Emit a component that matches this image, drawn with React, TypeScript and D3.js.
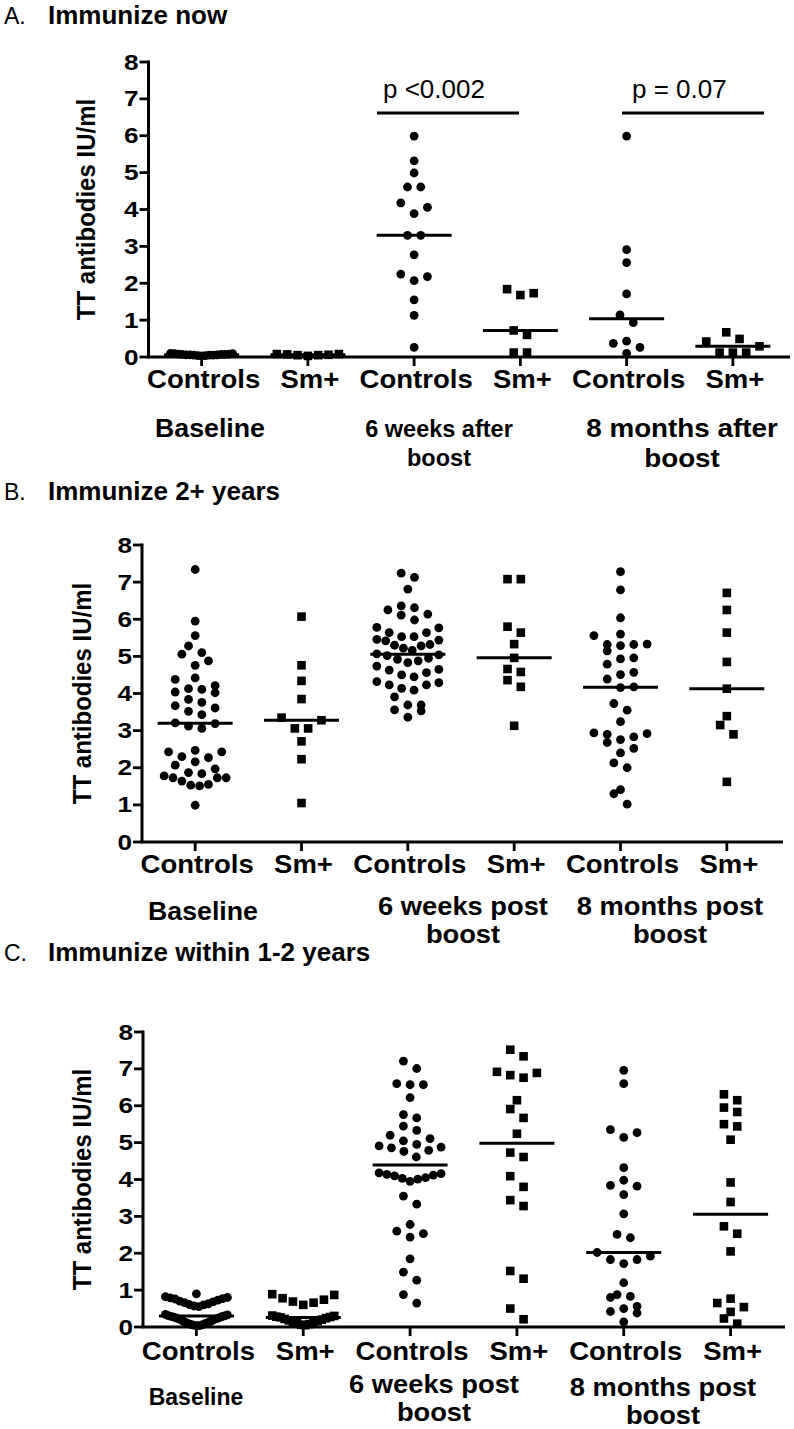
import React from "react";
import * as d3 from "d3";

// ---------------- DATA ----------------
const categories = ["Controls", "Sm+", "Controls", "Sm+", "Controls", "Sm+"];
const markerKinds = ["circle", "square", "circle", "square", "circle", "square"];
const yTicks = [0, 1, 2, 3, 4, 5, 6, 7, 8];
const yLabel = "TT antibodies IU/ml";

// Panel A: Immunize now
const aBaselineControls = [0.03, 0.04, 0.04, 0.05, 0.05, 0.05, 0.06, 0.06, 0.06, 0.07, 0.07, 0.07, 0.08, 0.08, 0.09, 0.09, 0.1];
const aBaselineSm = [0.03, 0.05, 0.05, 0.06, 0.07, 0.08, 0.08];
const a6wkControls = [5.99, 5.32, 4.99, 4.61, 4.61, 4.18, 4.06, 3.89, 3.3, 3.3, 2.77, 2.25, 2.18, 2.07, 1.55, 1.13, 0.26];
const a6wkSm = [1.84, 1.73, 1.68, 0.72, 0.6, 0.12, 0.12];
const a8moControls = [5.99, 2.91, 2.56, 1.71, 1.14, 0.93, 0.43, 0.37, 0.26, 0.1];
const a8moSm = [0.67, 0.49, 0.42, 0.29, 0.12, 0.12, 0.12];
const aGroupLabels = [["Baseline"], ["6 weeks after", "boost"], ["8 months after", "boost"]];
const aPValues = ["p <0.002", "p = 0.07"];

// Panel B: Immunize 2+ years
const bBaselineControls = [7.34, 5.95, 5.56, 5.28, 5.1, 5.06, 4.88, 4.76, 4.42, 4.38, 4.21, 4.13, 4.11, 4.04, 4.02, 3.84, 3.76, 3.67, 3.61, 3.52, 3.43, 3.21, 3.19, 3.12, 3.06, 2.47, 2.43, 2.43, 2.3, 2.27, 2.16, 2.07, 1.97, 1.87, 1.84, 1.78, 1.73, 1.73, 1.73, 1.64, 1.55, 1.53, 1.51, 0.99];
const bBaselineSm = [6.07, 4.76, 4.34, 3.85, 3.35, 3.28, 3.06, 3.06, 2.71, 2.23, 1.05];
const b6wkControls = [7.24, 7.13, 6.81, 6.36, 6.31, 6.25, 6.14, 6.11, 5.98, 5.78, 5.77, 5.64, 5.64, 5.53, 5.53, 5.46, 5.44, 5.42, 5.32, 5.3, 5.28, 5.22, 5.16, 5.07, 5.04, 5.02, 4.95, 4.92, 4.88, 4.83, 4.74, 4.65, 4.63, 4.56, 4.5, 4.45, 4.32, 4.29, 4.23, 4.23, 4.14, 4.09, 3.91, 3.69, 3.69, 3.56, 3.53, 3.36];
const b6wkSm = [7.08, 7.08, 5.8, 5.64, 5.33, 4.96, 4.66, 4.58, 4.36, 4.18, 3.13];
const b8moControls = [7.28, 6.79, 6.04, 5.6, 5.56, 5.33, 5.32, 5.32, 5.29, 5.15, 4.96, 4.93, 4.79, 4.57, 4.51, 4.39, 4.18, 4.16, 3.73, 3.55, 3.24, 2.94, 2.92, 2.9, 2.83, 2.76, 2.68, 2.52, 2.4, 2.13, 2.0, 1.41, 1.3, 1.02];
const b8moSm = [6.71, 6.25, 5.64, 4.85, 4.13, 3.39, 3.15, 2.9, 1.62];
const bGroupLabels = [["Baseline"], ["6 weeks post", "boost"], ["8 months post", "boost"]];

// Panel C: Immunize within 1-2 years
const cBaselineControls = [0.9, 0.82, 0.8, 0.79, 0.77, 0.76, 0.73, 0.7, 0.68, 0.66, 0.63, 0.61, 0.6, 0.57, 0.55, 0.34, 0.33, 0.31, 0.3, 0.29, 0.28, 0.27, 0.25, 0.24, 0.22, 0.21, 0.19, 0.17, 0.15, 0.13, 0.12, 0.1, 0.09, 0.07, 0.06, 0.05, 0.04, 0.04];
const cBaselineSm = [0.89, 0.78, 0.69, 0.6, 0.66, 0.74, 0.87, 0.31, 0.3, 0.28, 0.27, 0.26, 0.24, 0.22, 0.2, 0.18, 0.16, 0.14, 0.12, 0.1, 0.08, 0.06, 0.05];
const c6wkControls = [7.21, 7.01, 6.6, 6.57, 6.57, 6.22, 5.76, 5.67, 5.45, 5.33, 5.2, 5.11, 5.05, 4.95, 4.91, 4.88, 4.86, 4.79, 4.76, 4.61, 4.18, 4.16, 4.14, 4.12, 4.1, 4.05, 4.03, 4.01, 3.95, 3.55, 3.33, 2.78, 2.6, 2.53, 2.44, 1.85, 1.49, 1.27, 0.88, 0.65];
const c6wkSm = [7.52, 7.34, 6.92, 6.89, 6.83, 6.76, 6.15, 5.91, 5.67, 5.24, 4.73, 4.61, 4.09, 3.8, 3.44, 3.28, 1.52, 1.31, 0.5, 0.21];
const c8moControls = [6.96, 6.6, 5.35, 5.27, 5.14, 4.32, 3.98, 3.84, 3.82, 3.59, 3.07, 2.51, 2.42, 2.02, 1.92, 1.83, 1.83, 1.72, 1.2, 0.88, 0.83, 0.8, 0.56, 0.5, 0.42, 0.38, 0.14];
const c8moSm = [6.31, 6.15, 5.95, 5.83, 5.5, 5.44, 5.08, 3.92, 3.39, 2.73, 2.53, 2.05, 0.77, 0.65, 0.54, 0.41, 0.23, 0.09];
const cGroupLabels = [["Baseline"], ["6 weeks post", "boost"], ["8 months post", "boost"]];

// ---------------- LAYOUT / STYLE ----------------
const FONT = "'Liberation Sans', Arial, Helvetica, sans-serif";
const LETTER_FONT = "'Liberation Sans', Arial, sans-serif";
const ROW_THRESHOLD = 11.5;
const DOT_SPACING = 13.3;
const MAX_HALF = 31;
const DOT_R = 4.4;
const SQ = 8.6;
const MEDIAN_HALF = 37.5;

type GroupLabelLayout = { x: number; y: number; size: number; gap: number; sx: number };
type PLayout = { x1: number; x2: number; lineY: number; textX: number; textY: number };
type Layout = {
  titleY: number; y0: number; y8: number; axisX: number; rangeEnd: number; axisEnd: number;
  yLabelX: number; catY: number; groupLabels: GroupLabelLayout[]; pvals?: PLayout[];
};

function swarm(values: number[], y: (v: number) => number) {
  const sorted = values.map((v) => ({ v, py: y(v) })).sort((a, b) => a.v - b.v);
  const rows: { v: number; py: number }[][] = [];
  let cur: { v: number; py: number }[] | null = null;
  for (const p of sorted) {
    if (!cur || Math.abs(p.py - cur[0].py) > ROW_THRESHOLD) {
      cur = [p];
      rows.push(cur);
    } else cur.push(p);
  }
  const out: { v: number; py: number; dx: number }[] = [];
  rows.forEach((row) => {
    const n = row.length;
    let d = DOT_SPACING;
    if (n > 1 && ((n - 1) * d) / 2 > MAX_HALF) d = (2 * MAX_HALF) / (n - 1);
    const slots = d3.range(n).map((i) => (i - (n - 1) / 2) * d);
    slots.sort((a, b) => Math.abs(a) - Math.abs(b) || b - a);
    row.forEach((p, i) => out.push({ ...p, dx: slots[i] }));
  });
  return out;
}

function Panel(props: {
  letter: string; title: string; groups: number[][]; labels: string[][]; pValues?: string[]; layout: Layout;
}) {
  const { letter, title, groups, labels, pValues, layout: L } = props;
  const y = d3.scaleLinear().domain([0, 8]).range([L.y0, L.y8]);
  const x = d3.scalePoint<number>().domain(d3.range(categories.length)).range([L.axisX, L.rangeEnd]).padding(0.5);
  const midY = (L.y0 + L.y8) / 2;
  return (
    <g>
      <text x={4} y={L.titleY} fontFamily={LETTER_FONT} fontSize={23} fill="#000">{letter}</text>
      <text x={48} y={L.titleY} fontFamily={FONT} fontWeight="bold" fontSize={26} fill="#000">{title}</text>
      {/* y axis label */}
      <text transform={`translate(${L.yLabelX},${midY}) rotate(-90) scale(1,1.08)`} textAnchor="middle" fontFamily={FONT}
        fontWeight="bold" fontSize={24} fill="#000">{yLabel}</text>
      {/* y axis */}
      <line x1={L.axisX} x2={L.axisX} y1={y(8) - 1.5} y2={L.y0} stroke="#000" strokeWidth={3} />
      {yTicks.map((t) => (
        <g key={t}>
          <line x1={L.axisX - 9} x2={L.axisX} y1={y(t)} y2={y(t)} stroke="#000" strokeWidth={2.8} />
          <text transform={`translate(${L.axisX - 10},${y(t) + 7.5}) scale(1.22,1)`} textAnchor="end"
            fontFamily={FONT} fontWeight="bold" fontSize={21.5} fill="#000">{t}</text>
        </g>
      ))}
      {/* x axis */}
      <line x1={L.axisX - 1.5} x2={L.axisEnd} y1={L.y0} y2={L.y0} stroke="#000" strokeWidth={3} />
      {categories.map((c, i) => (
        <g key={i}>
          <line x1={x(i)} x2={x(i)} y1={L.y0} y2={L.y0 + 9} stroke="#000" strokeWidth={2.8} />
          <text transform={`translate(${x(i)! + 2},${L.catY}) scale(1.08,1)`} textAnchor="middle" fontFamily={FONT}
            fontWeight="bold" fontSize={25.5} fill="#000">{c}</text>
        </g>
      ))}
      {/* group labels */}
      {labels.map((lines, gi) => {
        const g = L.groupLabels[gi];
        return (
          <g key={gi} transform={`translate(${g.x},${g.y}) scale(${g.sx},1)`}>
            <text textAnchor="middle" fontFamily={FONT} fontWeight="bold" fontSize={g.size} fill="#000">
              {lines.map((ln, li) => (
                <tspan key={li} x={0} y={li * g.gap}>{ln}</tspan>
              ))}
            </text>
          </g>
        );
      })}
      {/* points */}
      {groups.map((vals, gi) => {
        const cx = x(gi)!;
        const pts = swarm(vals, y);
        const med = d3.median(vals)!;
        return (
          <g key={gi}>
            {pts.map((p, pi) =>
              markerKinds[gi] === "circle" ? (
                <circle key={pi} cx={cx + p.dx} cy={p.py} r={DOT_R} fill="#000" />
              ) : (
                <rect key={pi} x={cx + p.dx - SQ / 2} y={p.py - SQ / 2} width={SQ} height={SQ} fill="#000" />
              )
            )}
            <line x1={cx - MEDIAN_HALF} x2={cx + MEDIAN_HALF} y1={y(med)} y2={y(med)} stroke="#000" strokeWidth={3} />
          </g>
        );
      })}
      {/* p values */}
      {pValues && L.pvals && pValues.map((pv, i) => {
        const P = L.pvals![i];
        return (
          <g key={i}>
            <line x1={P.x1} x2={P.x2} y1={P.lineY} y2={P.lineY} stroke="#000" strokeWidth={2.8} />
            <text x={P.textX} y={P.textY} fontFamily={FONT} fontSize={26} fill="#000">{pv}</text>
          </g>
        );
      })}
    </g>
  );
}

const layoutA: Layout = {
  titleY: 24, y0: 357, y8: 62, axisX: 148.5, rangeEnd: 786, axisEnd: 790, yLabelX: 95, catY: 388,
  groupLabels: [
    { x: 210, y: 437, size: 25, gap: 29, sx: 1.07 },
    { x: 439, y: 437, size: 23.5, gap: 29, sx: 1.0 },
    { x: 682, y: 437, size: 26, gap: 30, sx: 1.07 },
  ],
  pvals: [
    { x1: 377, x2: 519, lineY: 113, textX: 383, textY: 98 },
    { x1: 622, x2: 764, lineY: 113, textX: 632, textY: 98 },
  ],
};
const layoutB: Layout = {
  titleY: 500, y0: 842, y8: 545, axisX: 142, rangeEnd: 780, axisEnd: 783, yLabelX: 91, catY: 873,
  groupLabels: [
    { x: 203, y: 920, size: 25, gap: 28, sx: 1.07 },
    { x: 463, y: 915, size: 26, gap: 28, sx: 1.05 },
    { x: 670, y: 915, size: 26, gap: 28, sx: 1.05 },
  ],
};
const layoutC: Layout = {
  titleY: 961, y0: 1327, y8: 1032, axisX: 143, rangeEnd: 784, axisEnd: 785, yLabelX: 91, catY: 1360,
  groupLabels: [
    { x: 196, y: 1405, size: 23, gap: 28, sx: 1.0 },
    { x: 434, y: 1393, size: 26, gap: 28, sx: 1.05 },
    { x: 663, y: 1396, size: 26, gap: 28, sx: 1.05 },
  ],
};

export default function App() {
  return (
    <svg width={794} height={1429} style={{ position: "absolute", left: 0, top: 0, background: "#fff" }}>
      <rect x={0} y={0} width={794} height={1429} fill="#fff" />
      <Panel letter="A." title="Immunize now" layout={layoutA} labels={aGroupLabels} pValues={aPValues}
        groups={[aBaselineControls, aBaselineSm, a6wkControls, a6wkSm, a8moControls, a8moSm]} />
      <Panel letter="B." title="Immunize 2+ years" layout={layoutB} labels={bGroupLabels}
        groups={[bBaselineControls, bBaselineSm, b6wkControls, b6wkSm, b8moControls, b8moSm]} />
      <Panel letter="C." title="Immunize within 1-2 years" layout={layoutC} labels={cGroupLabels}
        groups={[cBaselineControls, cBaselineSm, c6wkControls, c6wkSm, c8moControls, c8moSm]} />
    </svg>
  );
}
